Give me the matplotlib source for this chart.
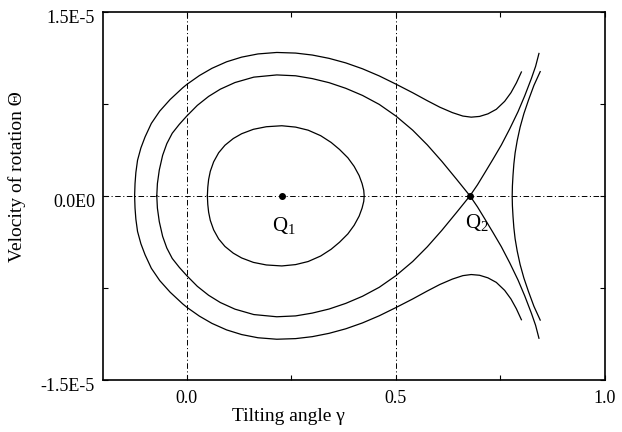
import matplotlib
matplotlib.use("Agg")
import matplotlib.pyplot as plt
import matplotlib.transforms as mtransforms
from matplotlib.ticker import FixedLocator, FixedFormatter

plt.rcParams["font.family"] = ["Liberation Serif", "DejaVu Serif"]
plt.rcParams["mathtext.fontset"] = "custom"
plt.rcParams["mathtext.rm"] = "Liberation Serif"
plt.rcParams["lines.scale_dashes"] = False

SCALE = 1e-5  # velocity values below are in units of 1E-5

# curves are read as upper halves; the portrait is symmetric about zero velocity
# closed orbit around Q1
inner_x = [0.049, 0.050, 0.052, 0.056, 0.064, 0.076, 0.091, 0.111, 0.131, 0.159,
           0.190, 0.227, 0.260, 0.290, 0.320, 0.345, 0.365, 0.385, 0.400, 0.412,
           0.419, 0.423, 0.424]
inner_y = [0.000, 0.070, 0.133, 0.200, 0.277, 0.351, 0.412, 0.467, 0.506, 0.542,
           0.563, 0.571, 0.560, 0.535, 0.490, 0.435, 0.378, 0.310, 0.240, 0.165,
           0.100, 0.045, 0.000]

# separatrix loop through Q2
sep_x = [-0.072, -0.0705, -0.066, -0.058, -0.048, -0.035, -0.018, 0.000, 0.025, 0.052,
         0.080, 0.115, 0.160, 0.215, 0.260, 0.300, 0.340, 0.380, 0.420, 0.460,
         0.500, 0.540, 0.575, 0.610, 0.645, 0.677]
sep_y = [0.000, 0.100, 0.210, 0.330, 0.425, 0.510, 0.583, 0.651, 0.737, 0.810,
         0.869, 0.923, 0.967, 0.985, 0.978, 0.955, 0.922, 0.876, 0.818, 0.745,
         0.650, 0.535, 0.415, 0.280, 0.135, 0.000]

# outgoing branch of the separatrix from Q2
branch_x = [0.677, 0.695, 0.712, 0.732, 0.752, 0.772, 0.792, 0.808, 0.824, 0.834, 0.842]
branch_y = [0.000, 0.090, 0.185, 0.298, 0.414, 0.545, 0.686, 0.815, 0.957, 1.055, 1.160]

# outer trajectory (open on the right)
outer_x = [-0.125, -0.124, -0.122, -0.118, -0.110, -0.100, -0.085, -0.065, -0.040, -0.010,
           0.000, 0.030, 0.060, 0.095, 0.131, 0.170, 0.215, 0.260, 0.300, 0.340,
           0.380, 0.420, 0.460, 0.500, 0.540, 0.575, 0.605, 0.635, 0.660, 0.680,
           0.700, 0.720, 0.740, 0.760, 0.775, 0.788, 0.800]
outer_y = [0.000, 0.100, 0.190, 0.290, 0.390, 0.480, 0.590, 0.690, 0.785, 0.880,
           0.908, 0.980, 1.039, 1.092, 1.130, 1.156, 1.168, 1.163, 1.147, 1.120,
           1.083, 1.035, 0.977, 0.910, 0.840, 0.775, 0.722, 0.678, 0.650, 0.641,
           0.647, 0.668, 0.705, 0.770, 0.840, 0.920, 1.009]

# trajectory right of the saddle
right_x = [0.778, 0.7785, 0.780, 0.782, 0.785, 0.790, 0.797, 0.806, 0.817, 0.830, 0.845]
right_y = [0.000, 0.080, 0.170, 0.260, 0.350, 0.450, 0.560, 0.670, 0.780, 0.900, 1.012]

q_points_x = [0.228, 0.677]
q_points_y = [0.0, 0.0]

x_ticks = [0.0, 0.5, 1.0]
x_tick_labels = ["0.0", "0.5", "1.0"]
y_ticks = [-1.5e-5, 0.0, 1.5e-5]
y_tick_labels = ["-1.5E-5", "0.0E0", "1.5E-5"]


def closed(xs, ys):
    fx = list(xs) + list(xs[::-1][1:])
    fy = list(ys) + [-v for v in ys[::-1][1:]]
    return fx, [v * SCALE for v in fy]


def open_sym(xs, ys):
    fx = list(xs[::-1]) + list(xs[1:])
    fy = [-v for v in ys[::-1]] + list(ys[1:])
    return fx, [v * SCALE for v in fy]


fig = plt.figure(figsize=(6.22, 4.32), dpi=100)
ax = fig.add_axes([0.166, 0.1204, 0.8067, 0.8525])

line_kw = dict(color="black", lw=0.9, solid_joinstyle="round")
ax.plot(*closed(inner_x, inner_y), **line_kw)
ax.plot(*closed(sep_x, sep_y), **line_kw)
ax.plot(*open_sym(branch_x, branch_y), **line_kw)
ax.plot(*open_sym(outer_x, outer_y), **line_kw)
ax.plot(*open_sym(right_x, right_y), **line_kw)

ax.plot(q_points_x, q_points_y, "o", color="black", ms=4)

grid_kw = dict(color="black", lw=0.7, ls=(0, (4, 1.8, 0.8, 1.8)), zorder=0)
ax.axvline(0.0, **grid_kw)
ax.axvline(0.5, **grid_kw)
ax.axhline(0.0, **grid_kw)

ax.text(0.203, -0.29e-5, r"Q$_1$", fontsize=15, ha="left", va="baseline")
ax.text(0.665, -0.265e-5, r"Q$_2$", fontsize=15, ha="left", va="baseline")

ax.set_xlim(-0.2, 1.0)
ax.set_ylim(-1.5e-5, 1.5e-5)

ax.xaxis.set_major_locator(FixedLocator(x_ticks))
ax.xaxis.set_major_formatter(FixedFormatter(x_tick_labels))
ax.xaxis.set_minor_locator(FixedLocator([0.25, 0.75]))
ax.yaxis.set_major_locator(FixedLocator(y_ticks))
ax.yaxis.set_major_formatter(FixedFormatter(y_tick_labels))
ax.yaxis.set_minor_locator(FixedLocator([-0.75e-5, 0.75e-5]))

ax.tick_params(which="both", direction="in", top=True, right=True,
               length=3.5, width=0.8, labelsize=13)
ax.tick_params(axis="y", pad=6)
ax.tick_params(axis="x", pad=7)

for sp in ax.spines.values():
    sp.set_linewidth(1.2)

shift = mtransforms.ScaledTranslation(0, -4.5 / 100, fig.dpi_scale_trans)
for lab in ax.get_yticklabels():
    lab.set_transform(lab.get_transform() + shift)

ax.set_xlabel("Tilting angle γ", fontsize=14, va="center")
ax.xaxis.set_label_coords(0.369, -0.098)
ax.set_ylabel("Velocity of rotation Θ", fontsize=14, va="center")
ax.yaxis.set_label_coords(-0.172, 0.553)

fig.savefig("out.png", dpi=100)
